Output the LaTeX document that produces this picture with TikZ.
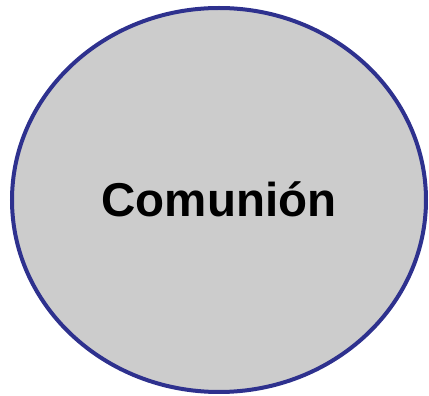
\documentclass[tikz,border=0pt]{standalone}
\usepackage{fontspec}
\setmainfont{Liberation Sans}
\usepackage{tikz}
\usetikzlibrary{
  positioning,
  shapes.geometric
}
\definecolor{ringblue}{RGB}{46,49,142}
\definecolor{discgray}{RGB}{204,204,204}

\begin{document}
\begin{tikzpicture}[x=1pt, y=1pt]
  \useasboundingbox (0,0) rectangle (429,396);
  \node[ellipse, draw=ringblue, fill=discgray, line width=4pt, inner sep=0pt,
        minimum width=414pt, minimum height=384pt] (disc) at (219,196) {};
  \node[anchor=base, inner sep=0pt, font=\fontsize{47.5}{50}\selectfont\bfseries] (title)
        at ([yshift=-17pt]disc.center) {Comunión};
\end{tikzpicture}
\end{document}
